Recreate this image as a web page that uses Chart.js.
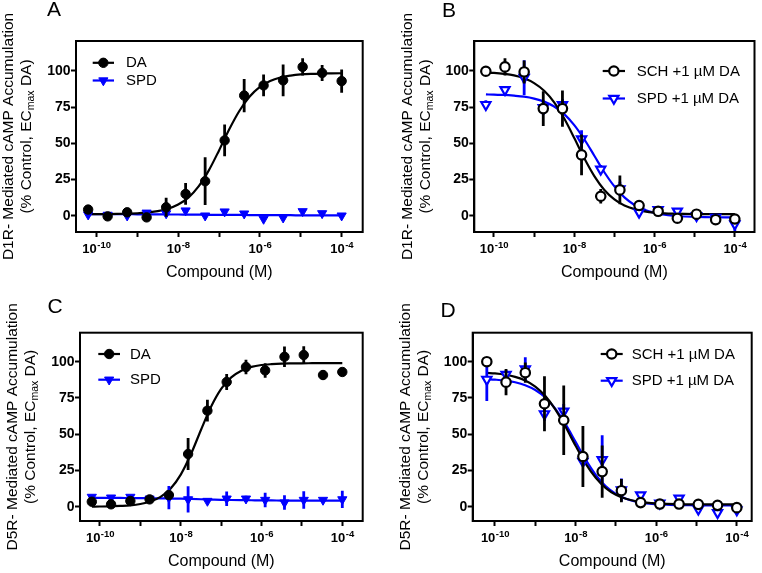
<!DOCTYPE html>
<html>
<head>
<meta charset="utf-8">
<script src="https://cdn.jsdelivr.net/npm/chart.js@4.4.1/dist/chart.umd.min.js"></script>
<style>
  body { margin: 0; background: #fff; width: 762px; height: 573px; position: relative; overflow: hidden; }
  canvas { position: absolute; }
</style>
</head>
<body>
<canvas id="panelA" width="381" height="287" style="left:0;top:0"></canvas>
<canvas id="panelB" width="381" height="287" style="left:381px;top:0"></canvas>
<canvas id="panelC" width="381" height="286" style="left:0;top:287px"></canvas>
<canvas id="panelD" width="381" height="286" style="left:381px;top:287px"></canvas>
<script>
// concentrations (M), 3-fold dilutions
const concentrations = [6.27e-11, 1.88e-10, 5.65e-10, 1.69e-9, 5.08e-9, 1.52e-8, 4.57e-8, 1.37e-7, 4.12e-7, 1.23e-6, 3.70e-6, 1.11e-5, 3.33e-5, 1.0e-4];
const fitLogConc = [-10.2, -10, -9.75, -9.5, -9.25, -9, -8.75, -8.5, -8.25, -8, -7.75, -7.5, -7.25, -7, -6.75, -6.5, -6.25, -6, -5.75, -5.5, -5.25, -5, -4.75, -4.5, -4.25, -4];
const xTickDecades = [-10, -9, -8, -7, -6, -5, -4];
const xLabelDecades = [-10, -8, -6, -4];
const yTicks = [0, 25, 50, 75, 100];

// A - D1R, agonist mode
const aDA = [4.2, -0.5, 2.3, -1.2, 5.8, 15.0, 23.8, 52.0, 83.0, 90.0, 93.5, 102.8, 98.6, 93.0];
const aDAErr = [0, 0, 0, 0, 6.5, 7.5, 16.5, 11, 11.5, 7.5, 11, 6, 5.5, 8];
const aSPD = [0.7, 0.5, 0.0, 2.0, 1.5, 3.5, 0.0, 2.8, 1.4, -2.3, -1.4, 3.0, 1.6, 0.0];
const aSPDErr = [0, 0, 0, 0, 0, 1.5, 0, 1, 1, 1.5, 1, 1.5, 1, 1];
const aDAFit = [1.0, 1.1, 1.1, 1.2, 1.4, 1.6, 2.2, 3.1, 4.8, 7.7, 12.5, 20.2, 31.3, 45.1, 59.7, 72.5, 82.3, 89.0, 93.1, 95.5, 96.8, 97.6, 98.0, 98.2, 98.3, 98.4];
const aSPDFit = [1.1, 1.1, 1.0, 1.0, 1.0, 0.9, 0.9, 0.9, 0.8, 0.8, 0.7, 0.7, 0.6, 0.6, 0.5, 0.5, 0.4, 0.4, 0.3, 0.3, 0.3, 0.2, 0.2, 0.2, 0.2, 0.2];

// B - D1R, antagonist mode (+1 uM DA)
const bSCH = [99.8, 102.8, 99.3, 74.0, 74.0, 42.0, 13.4, 17.8, 7.0, 3.0, -1.8, 1.0, -2.8, -2.3];
const bSCHErr = [0, 6, 8, 12, 12.5, 14, 5, 10, 3.5, 2, 1.5, 3, 3, 3];
const bSPD = [76.7, 87.0, 95.4, 74.6, 76.7, 53.0, 32.0, 18.5, 2.3, 4.0, 3.0, 0.0, -1.2, -5.8];
const bSPDErr = [3, 2, 12, 5, 4, 6, 3, 5, 2, 2, 1.5, 2, 2, 7];
const bSCHFit = [99.0, 98.7, 98.0, 96.9, 94.9, 91.6, 86.3, 78.3, 67.1, 53.7, 39.6, 27.3, 17.7, 11.2, 7.0, 4.5, 3.0, 2.1, 1.6, 1.35, 1.2, 1.1, 1.05, 1.0, 1.0, 1.0];
const bSPDFit = [83.8, 83.6, 83.4, 82.9, 82.2, 80.9, 78.8, 75.4, 70.2, 62.6, 52.8, 41.4, 30.0, 20.2, 12.6, 7.4, 4.0, 1.9, 0.6, -0.1, -0.6, -0.8, -1.0, -1.1, -1.15, -1.15];

// C - D5R, agonist mode
const cDA = [3.4, 1.6, 3.9, 5.0, 8.0, 36.3, 66.2, 86.0, 96.3, 94.0, 103.4, 104.6, 90.8, 92.9];
const cDAErr = [2, 1, 2, 1, 3, 11, 7.5, 5.5, 5, 5, 7, 6, 3.5, 0];
const cSPD = [6.7, 6.2, 6.7, 5.5, 6.2, 5.0, 3.9, 5.5, 5.5, 4.6, 2.8, 4.6, 4.6, 5.0];
const cSPDErr = [1, 1, 1, 1, 8, 9, 1, 5, 2, 5, 5, 6, 1, 6];
const cDAFit = [0.07, 0.1, 0.2, 0.5, 0.9, 1.8, 3.5, 6.7, 12.5, 22.1, 36.1, 52.9, 68.9, 81.2, 89.2, 93.8, 96.4, 97.7, 98.3, 98.65, 98.8, 98.9, 98.95, 99.0, 99.0, 99.0];
const cSPDFit = [6.0, 6.0, 6.0, 6.0, 5.9, 5.9, 5.8, 5.7, 5.6, 5.5, 5.3, 5.1, 4.9, 4.7, 4.6, 4.5, 4.4, 4.3, 4.3, 4.2, 4.2, 4.2, 4.2, 4.2, 4.2, 4.2];

// D - D5R, antagonist mode (+1 uM DA)
const dSCH = [100, 85.9, 92.4, 71.0, 59.6, 34.6, 24.2, 11.0, 2.8, 1.8, 1.8, 1.6, 0.9, -0.7];
const dSCHErr = [0, 9, 7, 19, 24, 21, 18, 8, 1.5, 1, 1, 1, 1.5, 1.5];
const dSPD = [87.8, 91.2, 95.0, 64.0, 65.8, 31.2, 32.3, 11.5, 8.0, 2.3, 5.8, -1.8, -4.2, -2.3];
const dSPDErr = [15, 3, 8, 5, 5, 3, 17, 8, 2, 1, 2, 2, 2, 1.5];
const dSCHFit = [92.3, 91.9, 91.0, 89.5, 87.0, 82.8, 76.3, 67.0, 55.1, 42.0, 29.7, 19.9, 12.8, 8.2, 5.4, 3.7, 2.8, 2.2, 1.9, 1.7, 1.6, 1.55, 1.5, 1.5, 1.5, 1.5];
const dSPDFit = [87.9, 87.6, 87.0, 85.8, 83.8, 80.5, 75.3, 67.4, 56.9, 44.7, 32.4, 21.9, 14.0, 8.8, 5.5, 3.5, 2.3, 1.7, 1.3, 1.1, 1.0, 0.9, 0.85, 0.83, 0.82, 0.81];

const BLACK = '#000000';
const BLUE = '#0000ff';
const FONT = "'Liberation Sans', Arial, sans-serif";

function pointSet(label, values, errors, color, style, open) {
    return {
        label: label,
        errors: errors,
        data: values.map((v, i) => ({ x: concentrations[i], y: v })),
        showLine: false,
        pointStyle: style,
        rotation: style === 'triangle' ? 180 : 0,
        pointRadius: style === 'triangle' ? 5.3 : 4.7,
        pointBorderWidth: open ? 2.2 : 1,
        pointBorderColor: color,
        pointBackgroundColor: open ? '#ffffff' : color,
        borderColor: color,
        order: 1,
    };
}

function fitLine(values, color) {
    return {
        data: values.map((v, i) => ({ x: 10 ** fitLogConc[i], y: v })),
        showLine: true,
        borderColor: color,
        borderWidth: 2.2,
        pointRadius: 0,
        cubicInterpolationMode: 'monotone',
        fill: false,
        order: 2,
    };
}

function drawMarker(ctx, ds, x, y) {
    ctx.save();
    ctx.lineWidth = ds.pointBorderWidth;
    ctx.strokeStyle = ds.pointBorderColor;
    ctx.fillStyle = ds.pointBackgroundColor;
    ctx.beginPath();
    if (ds.pointStyle === 'triangle') {
        const r = ds.pointRadius;
        for (let k = 0; k < 3; k++) {
            const a = Math.PI + k * 2 * Math.PI / 3;
            const px = x + Math.sin(a) * r, py = y - Math.cos(a) * r;
            if (k) ctx.lineTo(px, py); else ctx.moveTo(px, py);
        }
        ctx.closePath();
    } else {
        ctx.arc(x, y, ds.pointRadius, 0, 2 * Math.PI);
    }
    ctx.fill();
    ctx.stroke();
    ctx.restore();
}

// error bars, frame, superscript tick labels, titles, legend, panel letter
function makeDecor(panel) {
    return {
        id: 'decor',
        beforeDatasetDraw(chart, args) {
            const ds = chart.data.datasets[args.index];
            if (!ds.errors) return;
            const { ctx, chartArea, scales } = chart;
            ctx.save();
            ctx.beginPath();
            ctx.rect(chartArea.left, chartArea.top, chartArea.right - chartArea.left, chartArea.bottom - chartArea.top);
            ctx.clip();
            ctx.strokeStyle = ds.borderColor;
            ctx.lineWidth = 2.8;
            ds.data.forEach((p, i) => {
                const e = ds.errors[i];
                if (!e) return;
                const px = scales.x.getPixelForValue(p.x);
                ctx.beginPath();
                ctx.moveTo(px, scales.y.getPixelForValue(p.y + e));
                ctx.lineTo(px, scales.y.getPixelForValue(p.y - e));
                ctx.stroke();
            });
            ctx.restore();
        },
        afterDraw(chart) {
            const { ctx, chartArea, scales } = chart;
            const { left, right, top, bottom } = chartArea;
            ctx.save();
            ctx.strokeStyle = BLACK;
            ctx.lineWidth = 2;
            ctx.strokeRect(left, top, right - left, bottom - top);

            // x tick labels 10^n
            ctx.fillStyle = BLACK;
            ctx.textBaseline = 'alphabetic';
            ctx.textAlign = 'left';
            xLabelDecades.forEach(d => {
                const px = scales.x.getPixelForValue(10 ** d);
                const sup = '-' + Math.abs(d);
                ctx.font = 'bold 13px ' + FONT;
                const wb = ctx.measureText('10').width;
                ctx.font = 'bold 9.5px ' + FONT;
                const ws = ctx.measureText(sup).width;
                const x0 = px - (wb + ws) / 2;
                ctx.font = 'bold 13px ' + FONT;
                ctx.fillText('10', x0, bottom + 21.3);
                ctx.font = 'bold 9.5px ' + FONT;
                ctx.fillText(sup, x0 + wb + 0.5, bottom + 15.8);
            });

            // x title
            ctx.font = '16px ' + FONT;
            ctx.textAlign = 'center';
            ctx.textBaseline = 'middle';
            ctx.fillText('Compound (M)', (left + right) / 2, bottom + 41);

            // y title, two lines, with subscript
            const cy = (top + bottom) / 2;
            ctx.save();
            ctx.translate(left - 67, cy);
            ctx.rotate(-Math.PI / 2);
            ctx.font = '15.5px ' + FONT;
            ctx.fillText(panel.receptor + '- Mediated cAMP Accumulation', 0, 0);
            ctx.restore();

            ctx.save();
            ctx.translate(left - 49, cy);
            ctx.rotate(-Math.PI / 2);
            ctx.textAlign = 'left';
            const p1 = '(% Control, EC', p2 = 'max', p3 = ' DA)';
            ctx.font = '15.5px ' + FONT;
            const w1 = ctx.measureText(p1).width, w3 = ctx.measureText(p3).width;
            ctx.font = '10.5px ' + FONT;
            const w2 = ctx.measureText(p2).width;
            let sx = -(w1 + w2 + w3) / 2;
            ctx.font = '15.5px ' + FONT;
            ctx.fillText(p1, sx, 0);
            sx += w1;
            ctx.font = '10.5px ' + FONT;
            ctx.fillText(p2, sx, 4.5);
            sx += w2;
            ctx.font = '15.5px ' + FONT;
            ctx.fillText(p3, sx, 0);
            ctx.restore();

            // legend
            const lg = panel.legend;
            chart.data.datasets.filter(ds => ds.label).forEach((ds, k) => {
                const ly = lg.ys[k];
                ctx.strokeStyle = ds.borderColor;
                ctx.lineWidth = 2.2;
                ctx.beginPath();
                ctx.moveTo(lg.x0, ly);
                ctx.lineTo(lg.x1, ly);
                ctx.stroke();
                drawMarker(ctx, ds, (lg.x0 + lg.x1) / 2, ly);
                ctx.fillStyle = BLACK;
                ctx.font = '15px ' + FONT;
                ctx.textAlign = 'left';
                ctx.textBaseline = 'middle';
                ctx.fillText(ds.label, lg.tx, ly + 0.5);
            });

            // panel letter
            ctx.fillStyle = BLACK;
            ctx.font = '21px ' + FONT;
            ctx.textAlign = 'center';
            ctx.textBaseline = 'middle';
            ctx.fillText(panel.letter, panel.letterX, panel.letterY);
            ctx.restore();
        }
    };
}

function renderPanel(panel) {
    const canvas = document.getElementById(panel.id);
    const W = canvas.width, H = canvas.height;
    const area = panel.area;
    new Chart(canvas, {
        type: 'scatter',
        data: { datasets: panel.datasets },
        options: {
            responsive: false,
            animation: false,
            events: [],
            layout: { padding: { left: 0, top: area.t, right: W - area.r, bottom: 0 } },
            plugins: { legend: { display: false }, tooltip: { enabled: false } },
            scales: {
                x: {
                    type: 'logarithmic',
                    min: 10 ** panel.xMin,
                    max: 10 ** panel.xMax,
                    afterBuildTicks: s => { s.ticks = xTickDecades.map(d => ({ value: 10 ** d })); },
                    afterFit: s => { s.height = H - area.b; },
                    border: { display: true, color: BLACK, width: 2 },
                    grid: { drawOnChartArea: false, drawTicks: true, tickLength: 5, tickWidth: 2, tickColor: BLACK },
                    ticks: { display: false },
                },
                y: {
                    min: panel.yMin,
                    max: panel.yMax,
                    afterBuildTicks: s => { s.ticks = yTicks.map(v => ({ value: v })); },
                    afterFit: s => { s.width = area.l; },
                    border: { display: true, color: BLACK, width: 2 },
                    grid: { drawOnChartArea: false, drawTicks: true, tickLength: 5, tickWidth: 2, tickColor: BLACK },
                    ticks: { color: BLACK, padding: 0.5, font: { family: FONT, size: 14, weight: 'bold' } },
                },
            },
        },
        plugins: [makeDecor(panel)],
    });
}

renderPanel({
    id: 'panelA', letter: 'A', letterX: 54, letterY: 10, receptor: 'D1R',
    area: { l: 76, t: 41, r: 362.7, b: 232 },
    xMin: -10.5, xMax: -3.485, yMin: -11.3, yMax: 120.7,
    legend: { x0: 92.7, x1: 114, tx: 126, ys: [62.8, 80.5] },
    datasets: [
        pointSet('DA', aDA, aDAErr, BLACK, 'circle', false),
        pointSet('SPD', aSPD, aSPDErr, BLUE, 'triangle', false),
        fitLine(aDAFit, BLACK),
        fitLine(aSPDFit, BLUE),
    ],
});

renderPanel({
    id: 'panelB', letter: 'B', letterX: 68, letterY: 11, receptor: 'D1R',
    area: { l: 93.3, t: 41, r: 379, b: 232 },
    xMin: -10.49, xMax: -3.51, yMin: -11.3, yMax: 120.7,
    legend: { x0: 221.7, x1: 244, tx: 255.7, ys: [71, 98.5] },
    datasets: [
        pointSet('SCH +1 µM DA', bSCH, bSCHErr, BLACK, 'circle', true),
        pointSet('SPD +1 µM DA', bSPD, bSPDErr, BLUE, 'triangle', true),
        fitLine(bSCHFit, BLACK),
        fitLine(bSPDFit, BLUE),
    ],
});

renderPanel({
    id: 'panelC', letter: 'C', letterX: 55, letterY: 20, receptor: 'D5R',
    area: { l: 80, t: 45.7, r: 362.7, b: 234 },
    xMin: -10.495, xMax: -3.495, yMin: -9.9, yMax: 120,
    legend: { x0: 98.3, x1: 120, tx: 130, ys: [67, 92.7] },
    datasets: [
        pointSet('DA', cDA, cDAErr, BLACK, 'circle', false),
        pointSet('SPD', cSPD, cSPDErr, BLUE, 'triangle', false),
        fitLine(cDAFit, BLACK),
        fitLine(cSPDFit, BLUE),
    ],
});

renderPanel({
    id: 'panelD', letter: 'D', letterX: 67, letterY: 24, receptor: 'D5R',
    area: { l: 91.7, t: 45.7, r: 370.7, b: 234 },
    xMin: -10.553, xMax: -3.63, yMin: -9.9, yMax: 120,
    legend: { x0: 219.7, x1: 241.7, tx: 250.7, ys: [67, 93.7] },
    datasets: [
        pointSet('SCH +1 µM DA', dSCH, dSCHErr, BLACK, 'circle', true),
        pointSet('SPD +1 µM DA', dSPD, dSPDErr, BLUE, 'triangle', true),
        fitLine(dSCHFit, BLACK),
        fitLine(dSPDFit, BLUE),
    ],
});
</script>
</body>
</html>
